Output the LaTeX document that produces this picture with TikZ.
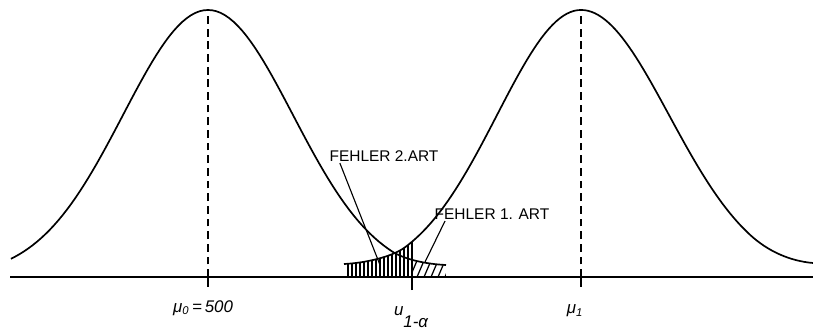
\documentclass[tikz,border=0pt]{standalone}
\usepackage{fontspec}
\setmainfont{Liberation Sans}
\tikzset{
  curve/.style={line width=1.2pt, line join=round},
  axisline/.style={line width=1.3pt},
  meanline/.style={line width=0.9pt, dash pattern=on 5.5pt off 3.5pt},
  tick/.style={line width=1pt},
  hatch/.style={line width=0.9pt},
  leader/.style={line width=0.8pt},
  lbl/.style={font=\fontsize{11}{13}\selectfont, inner sep=1pt},
  sym/.style={font=\fontsize{12}{14}\selectfont\itshape, inner sep=1pt}
}
\begin{document}
\begin{tikzpicture}[x=0.025cm, y=0.025cm,
  declare function={
    fa(\x)=267*exp(-0.5*((\x-208)/85)*((\x-208)/85));
    fb(\x)=267*exp(-0.5*((\x-581)/84)*((\x-581)/84));
    fc(\x)=267*exp(-0.5*((\x-581)/88)*((\x-581)/88));
  }]
  \useasboundingbox (0,-54) rectangle (813,277);

  \coordinate (m0) at (208,0);
  \coordinate (m1) at (581,0);
  \coordinate (u) at (412,0);

  % hatched areas
  \begin{scope}
    \clip (344,0) -- (344,13) .. controls (365,14) and (392,20) .. (405,{fb(405)})
      -- plot[domain=405:412, samples=5] (\x,{fb(\x)}) -- (412,0) -- cycle;
    \foreach \x in {348,352,...,410}
      \draw[hatch] (\x,0) -- (\x,40);
  \end{scope}
  \begin{scope}
    \clip (412,0) rectangle (446,30);
    \clip (392,0) -- (392,{fa(392)}) .. controls (404,17.8) and (425,13) .. (446,12)
      -- (446,0) -- cycle;
    \foreach \x in {403,410,...,445}
      \draw[hatch] (\x,0) -- ++(12,28);
  \end{scope}

  % the two curves
  \draw[curve] plot[domain=11:392, samples=90] (\x,{fa(\x)})
    .. controls (404,17.8) and (425,13) .. (446,12);
  \draw[curve] (344,13) .. controls (365,14) and (392,20) .. (405,{fb(405)})
    -- plot[domain=405:581, samples=50] (\x,{fb(\x)})
    -- plot[domain=581:750, samples=50] (\x,{fc(\x)})
    .. controls (768,25.6) and (790,16) .. (813,14);

  % axis, means, critical value
  \draw[axisline] (10,0) -- (813,0);
  \draw[meanline] (m0) -- ++(0,267);
  \draw[meanline] (m1) -- ++(0,267);
  \draw[tick] (m0) -- ++(0,-10);
  \draw[tick] (m1) -- ++(0,-10);
  \draw[tick] (u) ++(0,-13) -- (412,{fb(412)});

  % labels
  \node[lbl] (f2) at (384,121) {FEHLER 2.ART};
  \node[lbl] (f1) at (492,63) {FEHLER 1. ART};
  \coordinate (t2) at (380,12);
  \coordinate (t1) at (425,15);
  \draw[leader] ([xshift=0.3cm]f2.south west) -- (t2);
  \draw[leader] ([xshift=0.3cm]f1.south west) -- (t1);
  \node[sym] (mu0) at (203,-31) {μ\textsubscript{0}\,=\,500};
  \node[sym] (mu1) at (575,-34) {μ\textsubscript{1}};
  \node[sym] (ua) at (411,-40) {u\raisebox{-1.3ex}{1-α}};
\end{tikzpicture}
\end{document}
